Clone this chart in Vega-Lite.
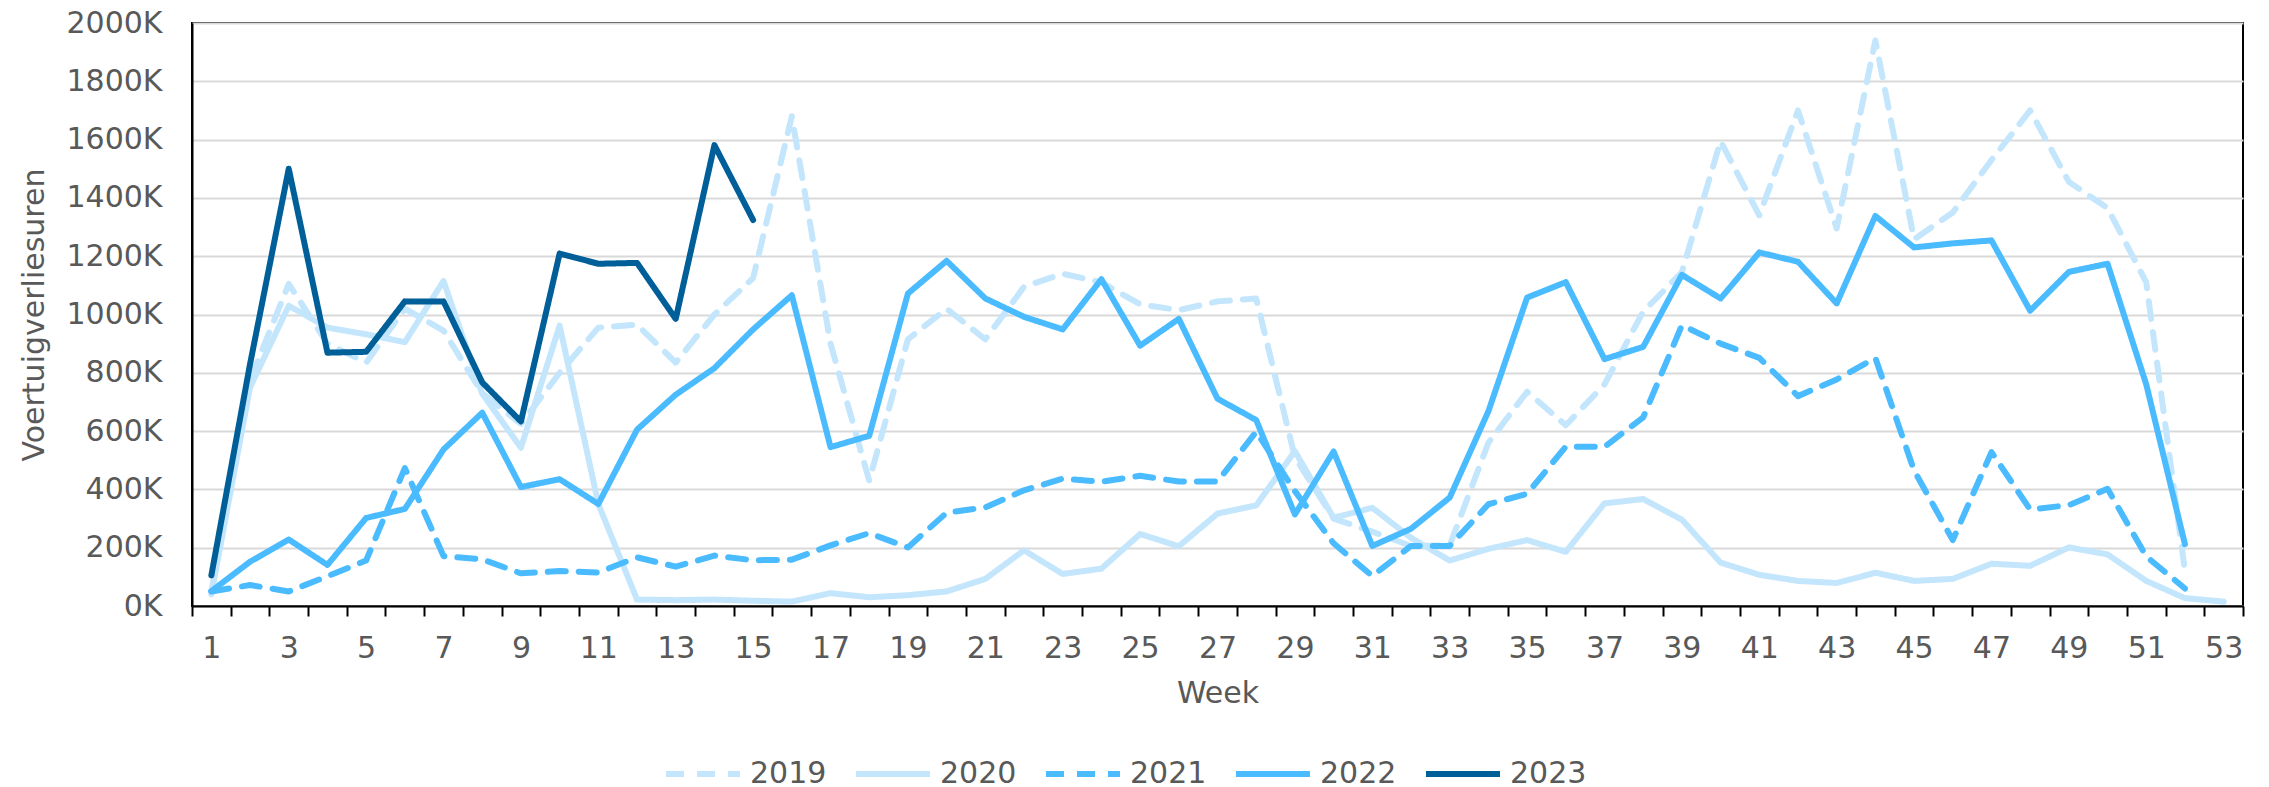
{
  "$schema": "https://vega.github.io/schema/vega-lite/v6.json",
  "width": 2051,
  "height": 583,
  "autosize": {"type": "none"},
  "padding": {"left": 192, "top": 23, "right": 26, "bottom": 181},
  "background": "white",
  "config": {
    "font": "DejaVu Sans",
    "view": {"stroke": "#000000", "strokeWidth": 2},
    "axis": {
      "labelFont": "DejaVu Sans",
      "titleFont": "DejaVu Sans",
      "labelFontSize": 30,
      "titleFontSize": 30,
      "labelColor": "#595959",
      "titleColor": "#595959",
      "titleFontWeight": "normal",
      "domainColor": "#000000",
      "domainWidth": 2,
      "tickColor": "#000000",
      "tickWidth": 2
    },
    "legend": {
      "orient": "none",
      "legendX": 471,
      "legendY": 711,
      "direction": "horizontal",
      "columns": 5,
      "symbolType": "stroke",
      "symbolSize": 5476,
      "symbolStrokeWidth": 6,
      "labelFont": "DejaVu Sans",
      "labelFontSize": 30,
      "labelColor": "#595959",
      "labelOffset": 7,
      "labelLimit": 300,
      "columnPadding": 17
    }
  },
  "data": {
    "values": [
      {"week":1,"jaar":"2019","uren":50000},{"week":2,"jaar":"2019","uren":775000},{"week":3,"jaar":"2019","uren":1105000},{"week":4,"jaar":"2019","uren":900000},{"week":5,"jaar":"2019","uren":835000},{"week":6,"jaar":"2019","uren":1020000},{"week":7,"jaar":"2019","uren":945000},{"week":8,"jaar":"2019","uren":730000},{"week":9,"jaar":"2019","uren":625000},{"week":10,"jaar":"2019","uren":800000},{"week":11,"jaar":"2019","uren":955000},{"week":12,"jaar":"2019","uren":965000},{"week":13,"jaar":"2019","uren":835000},{"week":14,"jaar":"2019","uren":1000000},{"week":15,"jaar":"2019","uren":1125000},{"week":16,"jaar":"2019","uren":1680000},{"week":17,"jaar":"2019","uren":900000},{"week":18,"jaar":"2019","uren":430000},{"week":19,"jaar":"2019","uren":915000},{"week":20,"jaar":"2019","uren":1020000},{"week":21,"jaar":"2019","uren":915000},{"week":22,"jaar":"2019","uren":1095000},{"week":23,"jaar":"2019","uren":1140000},{"week":24,"jaar":"2019","uren":1110000},{"week":25,"jaar":"2019","uren":1035000},{"week":26,"jaar":"2019","uren":1015000},{"week":27,"jaar":"2019","uren":1045000},{"week":28,"jaar":"2019","uren":1055000},{"week":29,"jaar":"2019","uren":510000},{"week":30,"jaar":"2019","uren":300000},{"week":31,"jaar":"2019","uren":255000},{"week":32,"jaar":"2019","uren":206000},{"week":33,"jaar":"2019","uren":208000},{"week":34,"jaar":"2019","uren":560000},{"week":35,"jaar":"2019","uren":735000},{"week":36,"jaar":"2019","uren":620000},{"week":37,"jaar":"2019","uren":760000},{"week":38,"jaar":"2019","uren":1010000},{"week":39,"jaar":"2019","uren":1145000},{"week":40,"jaar":"2019","uren":1595000},{"week":41,"jaar":"2019","uren":1340000},{"week":42,"jaar":"2019","uren":1700000},{"week":43,"jaar":"2019","uren":1295000},{"week":44,"jaar":"2019","uren":1940000},{"week":45,"jaar":"2019","uren":1258000},{"week":46,"jaar":"2019","uren":1350000},{"week":47,"jaar":"2019","uren":1530000},{"week":48,"jaar":"2019","uren":1700000},{"week":49,"jaar":"2019","uren":1455000},{"week":50,"jaar":"2019","uren":1365000},{"week":51,"jaar":"2019","uren":1110000},{"week":52,"jaar":"2019","uren":120000},
      {"week":1,"jaar":"2020","uren":40000},{"week":2,"jaar":"2020","uren":750000},{"week":3,"jaar":"2020","uren":1030000},{"week":4,"jaar":"2020","uren":955000},{"week":5,"jaar":"2020","uren":932000},{"week":6,"jaar":"2020","uren":905000},{"week":7,"jaar":"2020","uren":1115000},{"week":8,"jaar":"2020","uren":728000},{"week":9,"jaar":"2020","uren":543000},{"week":10,"jaar":"2020","uren":962000},{"week":11,"jaar":"2020","uren":350000},{"week":12,"jaar":"2020","uren":22000},{"week":13,"jaar":"2020","uren":20000},{"week":14,"jaar":"2020","uren":22000},{"week":15,"jaar":"2020","uren":18000},{"week":16,"jaar":"2020","uren":15000},{"week":17,"jaar":"2020","uren":44000},{"week":18,"jaar":"2020","uren":30000},{"week":19,"jaar":"2020","uren":37000},{"week":20,"jaar":"2020","uren":50000},{"week":21,"jaar":"2020","uren":93000},{"week":22,"jaar":"2020","uren":191000},{"week":23,"jaar":"2020","uren":110000},{"week":24,"jaar":"2020","uren":128000},{"week":25,"jaar":"2020","uren":247000},{"week":26,"jaar":"2020","uren":205000},{"week":27,"jaar":"2020","uren":317000},{"week":28,"jaar":"2020","uren":345000},{"week":29,"jaar":"2020","uren":531000},{"week":30,"jaar":"2020","uren":303000},{"week":31,"jaar":"2020","uren":337000},{"week":32,"jaar":"2020","uren":234000},{"week":33,"jaar":"2020","uren":156000},{"week":34,"jaar":"2020","uren":196000},{"week":35,"jaar":"2020","uren":226000},{"week":36,"jaar":"2020","uren":186000},{"week":37,"jaar":"2020","uren":352000},{"week":38,"jaar":"2020","uren":367000},{"week":39,"jaar":"2020","uren":296000},{"week":40,"jaar":"2020","uren":149000},{"week":41,"jaar":"2020","uren":107000},{"week":42,"jaar":"2020","uren":86000},{"week":43,"jaar":"2020","uren":79000},{"week":44,"jaar":"2020","uren":114000},{"week":45,"jaar":"2020","uren":86000},{"week":46,"jaar":"2020","uren":93000},{"week":47,"jaar":"2020","uren":145000},{"week":48,"jaar":"2020","uren":138000},{"week":49,"jaar":"2020","uren":201000},{"week":50,"jaar":"2020","uren":177000},{"week":51,"jaar":"2020","uren":86000},{"week":52,"jaar":"2020","uren":27000},{"week":53,"jaar":"2020","uren":15000},
      {"week":1,"jaar":"2021","uren":50000},{"week":2,"jaar":"2021","uren":72000},{"week":3,"jaar":"2021","uren":50000},{"week":4,"jaar":"2021","uren":102000},{"week":5,"jaar":"2021","uren":156000},{"week":6,"jaar":"2021","uren":473000},{"week":7,"jaar":"2021","uren":171000},{"week":8,"jaar":"2021","uren":160000},{"week":9,"jaar":"2021","uren":112000},{"week":10,"jaar":"2021","uren":120000},{"week":11,"jaar":"2021","uren":115000},{"week":12,"jaar":"2021","uren":167000},{"week":13,"jaar":"2021","uren":135000},{"week":14,"jaar":"2021","uren":173000},{"week":15,"jaar":"2021","uren":157000},{"week":16,"jaar":"2021","uren":159000},{"week":17,"jaar":"2021","uren":208000},{"week":18,"jaar":"2021","uren":250000},{"week":19,"jaar":"2021","uren":201000},{"week":20,"jaar":"2021","uren":320000},{"week":21,"jaar":"2021","uren":338000},{"week":22,"jaar":"2021","uren":397000},{"week":23,"jaar":"2021","uren":437000},{"week":24,"jaar":"2021","uren":426000},{"week":25,"jaar":"2021","uren":447000},{"week":26,"jaar":"2021","uren":427000},{"week":27,"jaar":"2021","uren":427000},{"week":28,"jaar":"2021","uren":598000},{"week":29,"jaar":"2021","uren":394000},{"week":30,"jaar":"2021","uren":215000},{"week":31,"jaar":"2021","uren":103000},{"week":32,"jaar":"2021","uren":206000},{"week":33,"jaar":"2021","uren":206000},{"week":34,"jaar":"2021","uren":349000},{"week":35,"jaar":"2021","uren":385000},{"week":36,"jaar":"2021","uren":547000},{"week":37,"jaar":"2021","uren":546000},{"week":38,"jaar":"2021","uren":647000},{"week":39,"jaar":"2021","uren":963000},{"week":40,"jaar":"2021","uren":900000},{"week":41,"jaar":"2021","uren":851000},{"week":42,"jaar":"2021","uren":720000},{"week":43,"jaar":"2021","uren":777000},{"week":44,"jaar":"2021","uren":851000},{"week":45,"jaar":"2021","uren":465000},{"week":46,"jaar":"2021","uren":226000},{"week":47,"jaar":"2021","uren":528000},{"week":48,"jaar":"2021","uren":331000},{"week":49,"jaar":"2021","uren":346000},{"week":50,"jaar":"2021","uren":402000},{"week":51,"jaar":"2021","uren":170000},{"week":52,"jaar":"2021","uren":60000},
      {"week":1,"jaar":"2022","uren":51000},{"week":2,"jaar":"2022","uren":152000},{"week":3,"jaar":"2022","uren":228000},{"week":4,"jaar":"2022","uren":141000},{"week":5,"jaar":"2022","uren":302000},{"week":6,"jaar":"2022","uren":333000},{"week":7,"jaar":"2022","uren":537000},{"week":8,"jaar":"2022","uren":663000},{"week":9,"jaar":"2022","uren":408000},{"week":10,"jaar":"2022","uren":435000},{"week":11,"jaar":"2022","uren":350000},{"week":12,"jaar":"2022","uren":605000},{"week":13,"jaar":"2022","uren":725000},{"week":14,"jaar":"2022","uren":816000},{"week":15,"jaar":"2022","uren":949000},{"week":16,"jaar":"2022","uren":1066000},{"week":17,"jaar":"2022","uren":545000},{"week":18,"jaar":"2022","uren":584000},{"week":19,"jaar":"2022","uren":1072000},{"week":20,"jaar":"2022","uren":1184000},{"week":21,"jaar":"2022","uren":1055000},{"week":22,"jaar":"2022","uren":992000},{"week":23,"jaar":"2022","uren":949000},{"week":24,"jaar":"2022","uren":1121000},{"week":25,"jaar":"2022","uren":893000},{"week":26,"jaar":"2022","uren":985000},{"week":27,"jaar":"2022","uren":711000},{"week":28,"jaar":"2022","uren":638000},{"week":29,"jaar":"2022","uren":314000},{"week":30,"jaar":"2022","uren":530000},{"week":31,"jaar":"2022","uren":206000},{"week":32,"jaar":"2022","uren":265000},{"week":33,"jaar":"2022","uren":372000},{"week":34,"jaar":"2022","uren":668000},{"week":35,"jaar":"2022","uren":1058000},{"week":36,"jaar":"2022","uren":1111000},{"week":37,"jaar":"2022","uren":847000},{"week":38,"jaar":"2022","uren":889000},{"week":39,"jaar":"2022","uren":1136000},{"week":40,"jaar":"2022","uren":1055000},{"week":41,"jaar":"2022","uren":1213000},{"week":42,"jaar":"2022","uren":1181000},{"week":43,"jaar":"2022","uren":1038000},{"week":44,"jaar":"2022","uren":1338000},{"week":45,"jaar":"2022","uren":1230000},{"week":46,"jaar":"2022","uren":1244000},{"week":47,"jaar":"2022","uren":1254000},{"week":48,"jaar":"2022","uren":1013000},{"week":49,"jaar":"2022","uren":1146000},{"week":50,"jaar":"2022","uren":1174000},{"week":51,"jaar":"2022","uren":760000},{"week":52,"jaar":"2022","uren":212000},
      {"week":1,"jaar":"2023","uren":105000},{"week":2,"jaar":"2023","uren":830000},{"week":3,"jaar":"2023","uren":1500000},{"week":4,"jaar":"2023","uren":869000},{"week":5,"jaar":"2023","uren":872000},{"week":6,"jaar":"2023","uren":1045000},{"week":7,"jaar":"2023","uren":1045000},{"week":8,"jaar":"2023","uren":767000},{"week":9,"jaar":"2023","uren":633000},{"week":10,"jaar":"2023","uren":1209000},{"week":11,"jaar":"2023","uren":1174000},{"week":12,"jaar":"2023","uren":1177000},{"week":13,"jaar":"2023","uren":985000},{"week":14,"jaar":"2023","uren":1581000},{"week":15,"jaar":"2023","uren":1324000}
    ]
  },
  "mark": {"type": "line", "strokeWidth": 6, "strokeCap": "round", "strokeJoin": "round"},
  "encoding": {
    "x": {
      "field": "week",
      "type": "ordinal",
      "bandPosition": 0.5,
      "scale": {"type": "band", "paddingInner": 0, "paddingOuter": 0},
      "sort": "ascending",
      "title": "Week",
      "axis": {
        "labelAngle": 0,
        "labelOverlap": false,
        "labelExpr": "datum.value % 2 == 1 ? datum.label : ''",
        "tickBand": "extent",
        "tickSize": 10,
        "labelPadding": 17,
        "titlePadding": 15,
        "grid": false
      }
    },
    "y": {
      "field": "uren",
      "type": "quantitative",
      "scale": {"domain": [0, 2000000], "nice": false},
      "title": "Voertuigverliesuren",
      "axis": {
        "values": [0,200000,400000,600000,800000,1000000,1200000,1400000,1600000,1800000,2000000],
        "labelExpr": "format(datum.value / 1000, 'd') + 'K'",
        "ticks": false,
        "labelPadding": 30,
        "titlePadding": 16,
        "grid": true,
        "gridColor": "#d9d9d9",
        "gridWidth": 2
      }
    },
    "color": {
      "field": "jaar",
      "type": "nominal",
      "title": null,
      "scale": {
        "domain": ["2019","2020","2021","2022","2023"],
        "range": ["#c4e6fd","#c4e6fd","#4bbbff","#4bbbff","#005f99"]
      }
    },
    "strokeDash": {
      "field": "jaar",
      "type": "nominal",
      "title": null,
      "scale": {
        "domain": ["2019","2020","2021","2022","2023"],
        "range": [[18,13],[1,0],[18,13],[1,0],[1,0]]
      }
    }
  }
}
